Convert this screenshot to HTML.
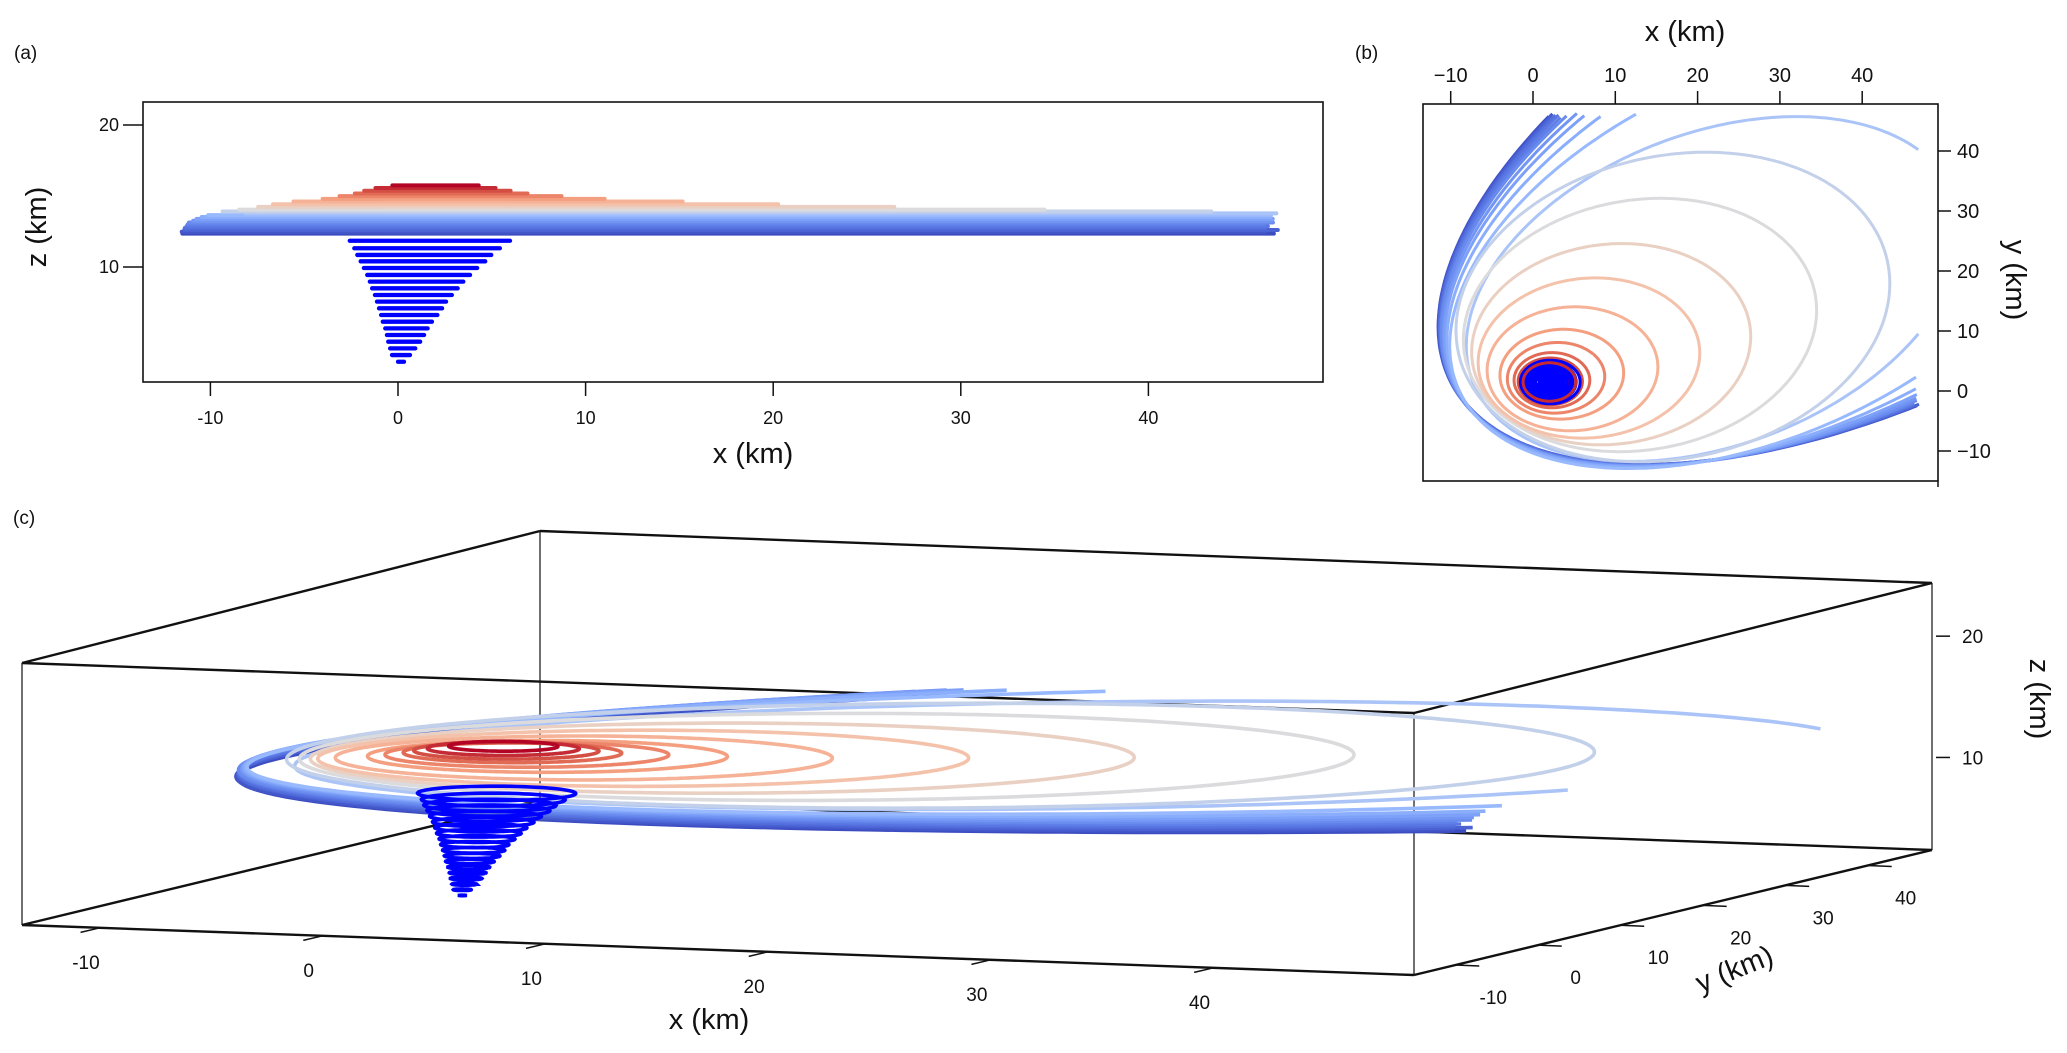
<!DOCTYPE html>
<html><head><meta charset="utf-8"><style>
html,body{margin:0;padding:0;background:#fff;}
svg{display:block;}
text{font-family:"Liberation Sans","DejaVu Sans",sans-serif;fill:#111;}
</style></head><body>
<svg id="fig" width="2067" height="1053" viewBox="0 0 2067 1053" xmlns="http://www.w3.org/2000/svg">
<rect width="2067" height="1053" fill="#fff"/>
<defs>
<clipPath id="clipB"><rect x="1423" y="104" width="515" height="377"/></clipPath>
</defs>
<text x="14" y="59" font-size="19">(a)</text>
<text x="1355" y="59" font-size="19">(b)</text>
<text x="13" y="524" font-size="19">(c)</text>
<g id="panelA"></g>
<g id="panelB"></g>
<g id="panelC"></g>
</svg>
<script>
// ---- data (km) ----
const levelZ  = [15.75,15.56,15.37,15.18,14.99,14.80,14.61,14.42,14.23,14.04,13.91,13.78,13.65,13.52,13.39,13.26,13.13,13.00,12.87,12.74,12.61,12.48,12.35];
const levelCx = [2,2,2.1,2.3,2.8,3.5,4.8,6.8,9.5,13,17,22,27.75,32.35,35.8,38.1,39.9,41.3,42.5,43.4,44.1,44.5,45];
const levelCy = [1.5,1.5,1.6,1.8,2.2,2.8,3.7,5.5,7.8,11,14,17,22.75,27.35,30.8,33.1,34.9,36.3,37.5,38.4,39.1,39.5,40];
const levelA  = [2.3,3.2,3.9,4.6,6.0,7.6,10.5,13.8,17.5,22.5,28,34,44,50.4,55.2,58.4,61,62.9,64.5,65.8,66.7,67.4,68];
const levelB  = [2.3,3.2,3.9,4.6,5.8,7.4,10.2,13,16.2,20,24,24,27.75,29.95,31.6,32.7,33.6,34.2,34.8,35.2,35.6,35.8,36];
const funnelZ  = [11.85,11.32,10.85,10.4,9.93,9.44,8.97,8.5,8.03,7.56,7.09,6.62,6.15,5.68,5.21,4.74,4.27,3.8,3.33];
const funnelR  = [4.27,3.88,3.57,3.32,3.02,2.74,2.49,2.28,2.05,1.84,1.68,1.5,1.31,1.13,0.99,0.85,0.67,0.48,0.16];
const funnelCx = [1.7,1.55,1.4,1.33,1.2,1.1,0.99,0.9,0.82,0.72,0.67,0.6,0.5,0.45,0.4,0.33,0.25,0.16,0.16];
const funnelCy = 1.5;
const aXTicks = [-10,0,10,20,30,40];
const aZTicks = [10,20];
const bXTicks = [-10,0,10,20,30,40];
const bYTicks = [-10,0,10,20,30,40];
const cXTicks = [-10,0,10,20,30,40];
const cYTicks = [-10,0,10,20,30,40];
const cZTicks = [10,20];

const NS='http://www.w3.org/2000/svg';
function mk(tag, attrs, parent){const e=document.createElementNS(NS,tag);for(const k in attrs)e.setAttribute(k,attrs[k]);parent.appendChild(e);return e;}
const stops=[[0,[59,76,192]],[0.1,[79,105,217]],[0.2,[98,130,234]],[0.3,[123,159,249]],[0.4,[158,190,255]],[0.5,[221,220,220]],[0.6,[244,197,173]],[0.7,[247,168,137]],[0.8,[233,122,95]],[0.9,[209,73,63]],[1,[180,4,38]]];
function cw(t){t=Math.max(0,Math.min(1,t));for(let i=1;i<stops.length;i++){if(t<=stops[i][0]){const a=stops[i-1],b=stops[i];const f=(t-a[0])/(b[0]-a[0]);const c=a[1].map((v,k)=>Math.round(v+(b[1][k]-v)*f));return `rgb(${c[0]},${c[1]},${c[2]})`;}}return 'rgb(180,4,38)';}
const zLo=levelZ[levelZ.length-1], zHi=levelZ[0];
function levelColor(i){return cw((levelZ[i]-zLo)/(zHi-zLo));}
const CA=Math.cos(41*Math.PI/180), SA=Math.sin(41*Math.PI/180);
function inDom(x,y){return x>=-15&&x<=47&&y>=-16&&y<=46.3;}
function levelPts(i){const p=[];for(let k=0;k<=360;k++){const t=k*Math.PI/180;const u=levelA[i]*Math.cos(t),v=levelB[i]*Math.sin(t);const x=levelCx[i]+u*CA-v*SA,y=levelCy[i]+u*SA+v*CA;p.push([x,y,inDom(x,y)]);}return p;}
function pathFrom(pts,proj){let d='',pen=false;for(const q of pts){if(!q[2]){pen=false;continue;}const s=proj(q[0],q[1]);d+=(pen?'L':'M')+s[0].toFixed(1)+' '+s[1].toFixed(1);pen=true;}return d;}

// ---------------- Panel A ----------------
const gA=document.getElementById('panelA');
const aX=x=>398+18.76*x, aZ=z=>267-14.2*(z-10);
for(let i=levelZ.length-1;i>=0;i--){
  const pts=levelPts(i).filter(q=>q[2]);let mn=1e9,mx=-1e9;for(const q of pts){mn=Math.min(mn,q[0]);mx=Math.max(mx,q[0]);}
  const l=mk('line',{x1:aX(mn),x2:aX(mx),y1:aZ(levelZ[i]),y2:aZ(levelZ[i]),stroke:levelColor(i),'stroke-width':4,'stroke-linecap':'round'},gA);
  
  
}
for(let i=0;i<funnelZ.length;i++){
  const l=mk('line',{x1:aX(funnelCx[i]-funnelR[i]),x2:aX(funnelCx[i]+funnelR[i]),y1:aZ(funnelZ[i]),y2:aZ(funnelZ[i]),stroke:'#0000ff','stroke-width':4.3,'stroke-linecap':'round'},gA);
  
  
}
const fa=mk('rect',{x:143,y:102,width:1180,height:280,fill:'none',stroke:'#111','stroke-width':1.6},gA);


for(const v of aXTicks){
  const t=mk('line',{x1:aX(v),x2:aX(v),y1:382,y2:396,stroke:'#111','stroke-width':1.5},gA);
  
  
  const s=mk('text',{x:aX(v),y:424,'font-size':18,'text-anchor':'middle'},gA);s.textContent=v;
  
  
}
for(const v of aZTicks){
  const t=mk('line',{x1:123,x2:143,y1:aZ(v),y2:aZ(v),stroke:'#111','stroke-width':1.5},gA);
  
  
  const s=mk('text',{x:119,y:aZ(v)+6,'font-size':18,'text-anchor':'end'},gA);s.textContent=v;
  
  
}
const axl=mk('text',{x:753,y:463,'font-size':29,'text-anchor':'middle'},gA);axl.textContent='x (km)';


const azl=mk('text',{x:0,y:0,'font-size':29,'text-anchor':'middle',transform:'translate(46,227) rotate(-90)'},gA);azl.textContent='z (km)';



// ---------------- Panel B ----------------
const gB=document.getElementById('panelB');
const bX=x=>1533+8.23*x, bY=y=>391-6.0*y;
const gBc=mk('g',{'clip-path':'url(#clipB)'},gB);


function drawLevelB(i){const p=mk('path',{d:pathFrom(levelPts(i),(x,y)=>[bX(x),bY(y)]),fill:'none',stroke:levelColor(i),'stroke-width':3,'stroke-linejoin':'round'},gBc);
  
  }
for(let i=levelZ.length-1;i>=0;i--) drawLevelB(i);
for(let i=0;i<funnelZ.length;i++){
  const c=mk('ellipse',{cx:bX(funnelCx[i]+0.4),cy:bY(funnelCy),rx:8.23*funnelR[i]*0.85,ry:6*funnelR[i]*0.85,fill:'none',stroke:'#0000ff','stroke-width':3},gBc);
  
  
}
drawLevelB(1);
const fb=mk('rect',{x:1423,y:104,width:515,height:377,fill:'none',stroke:'#111','stroke-width':1.6},gB);


for(const v of bXTicks){
  const t=mk('line',{x1:bX(v),x2:bX(v),y1:91,y2:104,stroke:'#111','stroke-width':1.5},gB);
  
  
  const s=mk('text',{x:bX(v),y:82,'font-size':20,'text-anchor':'middle'},gB);s.textContent=(v<0?'\u2212'+(-v):v);
  
  
}
for(const v of bYTicks){
  const t=mk('line',{x1:1938,x2:1951,y1:bY(v),y2:bY(v),stroke:'#111','stroke-width':1.5},gB);
  
  
  const s=mk('text',{x:1957,y:bY(v)+7,'font-size':20},gB);s.textContent=(v<0?'\u2212'+(-v):v);
  
  
}
const bt=mk('line',{x1:1938,x2:1938,y1:481,y2:487,stroke:'#111','stroke-width':1.5},gB);


const bxl=mk('text',{x:1685,y:41,'font-size':29,'text-anchor':'middle'},gB);bxl.textContent='x (km)';


const byl=mk('text',{x:0,y:0,'font-size':29,'text-anchor':'middle',transform:'translate(2006,280) rotate(90)'},gB);byl.textContent='y (km)';



// ---------------- Panel C (3D) ----------------
const gC=document.getElementById('panelC');
const E=[22,925],F=[1414,975],G=[540,800],A=[22,663];
const xr=[-13.5,49],yr=[-15,47.8],zr=[2.7,24.3];
function P(x,y,z){const fx=(x-xr[0])/(xr[1]-xr[0]),fy=(y-yr[0])/(yr[1]-yr[0]),fz=(z-zr[0])/(zr[1]-zr[0]);
  return [E[0]+fx*(F[0]-E[0])+fy*(G[0]-E[0])+fz*(A[0]-E[0]),E[1]+fx*(F[1]-E[1])+fy*(G[1]-E[1])+fz*(A[1]-E[1])];}
function seg(p,q,w,name){const l=mk('line',{x1:p[0],y1:p[1],x2:q[0],y2:q[1],stroke:'#111','stroke-width':w},gC);
  
  }
const c000=P(xr[0],yr[0],zr[0]),c100=P(xr[1],yr[0],zr[0]),c010=P(xr[0],yr[1],zr[0]),c110=P(xr[1],yr[1],zr[0]);
const c001=P(xr[0],yr[0],zr[1]),c101=P(xr[1],yr[0],zr[1]),c011=P(xr[0],yr[1],zr[1]),c111=P(xr[1],yr[1],zr[1]);
c011[1]-=7;c111[1]-=5;
seg(c010,c011,1.2,'box-edge');seg(c000,c001,1.2,'box-edge');seg(c100,c101,1.2,'box-edge');seg(c110,c111,1.2,'box-edge');
seg(c001,c101,2.4,'box-edge');seg(c011,c111,2.4,'box-edge');seg(c001,c011,2.4,'box-edge');seg(c101,c111,2.4,'box-edge');
seg(c000,c100,2.4,'box-edge');seg(c000,c010,2.4,'box-edge');seg(c010,c110,2.4,'box-edge');seg(c100,c110,2.4,'box-edge');
for(let i=levelZ.length-1;i>=0;i--){
  const z=levelZ[i];
  const p=mk('path',{d:pathFrom(levelPts(i),(x,y)=>P(x,y,z)),fill:'none',stroke:levelColor(i),'stroke-width':3.6,'stroke-linejoin':'round'},gC);
  
  
}
for(let i=0;i<funnelZ.length;i++){
  const pts=[];for(let k=0;k<=72;k++){const t=k*5*Math.PI/180;const x=funnelCx[i]+funnelR[i]*0.78*Math.cos(t),y=funnelCy+funnelR[i]*0.78*Math.sin(t);pts.push([x,y,true]);}
  const p=mk('path',{d:pathFrom(pts,(x,y)=>P(x,y,funnelZ[i])),fill:'none',stroke:'#0000ff','stroke-width':3.6},gC);
  
  
}
const dx=[-0.97,0.23];
for(const v of cXTicks){
  const b=P(v,yr[0],zr[0]);
  const t=mk('line',{x1:b[0],y1:b[1],x2:b[0]+dx[0]*20,y2:b[1]+dx[1]*20,stroke:'#111','stroke-width':1.5},gC);
  
  
  const s=mk('text',{x:b[0]-14,y:b[1]+41,'font-size':19,'text-anchor':'middle'},gC);s.textContent=v;
  
  
}
for(const v of cYTicks){
  const b=P(xr[1],v,zr[0]);
  const t=mk('line',{x1:b[0],y1:b[1],x2:b[0]+24,y2:b[1]+1,stroke:'#111','stroke-width':1.5},gC);
  
  
  const s=mk('text',{x:b[0]+38,y:b[1]+39,'font-size':19,'text-anchor':'middle'},gC);s.textContent=v;
  
  
}
for(const v of cZTicks){
  const b=P(xr[1],yr[1],v);
  const t=mk('line',{x1:b[0]+4,y1:b[1]-4,x2:b[0]+18,y2:b[1]-4,stroke:'#111','stroke-width':1.5},gC);
  
  
  const s=mk('text',{x:b[0]+30,y:b[1]+3,'font-size':19},gC);s.textContent=v;
  
  
}
const cxl=mk('text',{x:709,y:1029,'font-size':29,'text-anchor':'middle'},gC);cxl.textContent='x (km)';


const cyl=mk('text',{x:0,y:0,'font-size':29,'text-anchor':'middle',transform:'translate(1738,978) rotate(-22)'},gC);cyl.textContent='y (km)';


const czl=mk('text',{x:0,y:0,'font-size':29,'text-anchor':'middle',transform:'translate(2030,699) rotate(90)'},gC);czl.textContent='z (km)';


</script>
</body></html>
